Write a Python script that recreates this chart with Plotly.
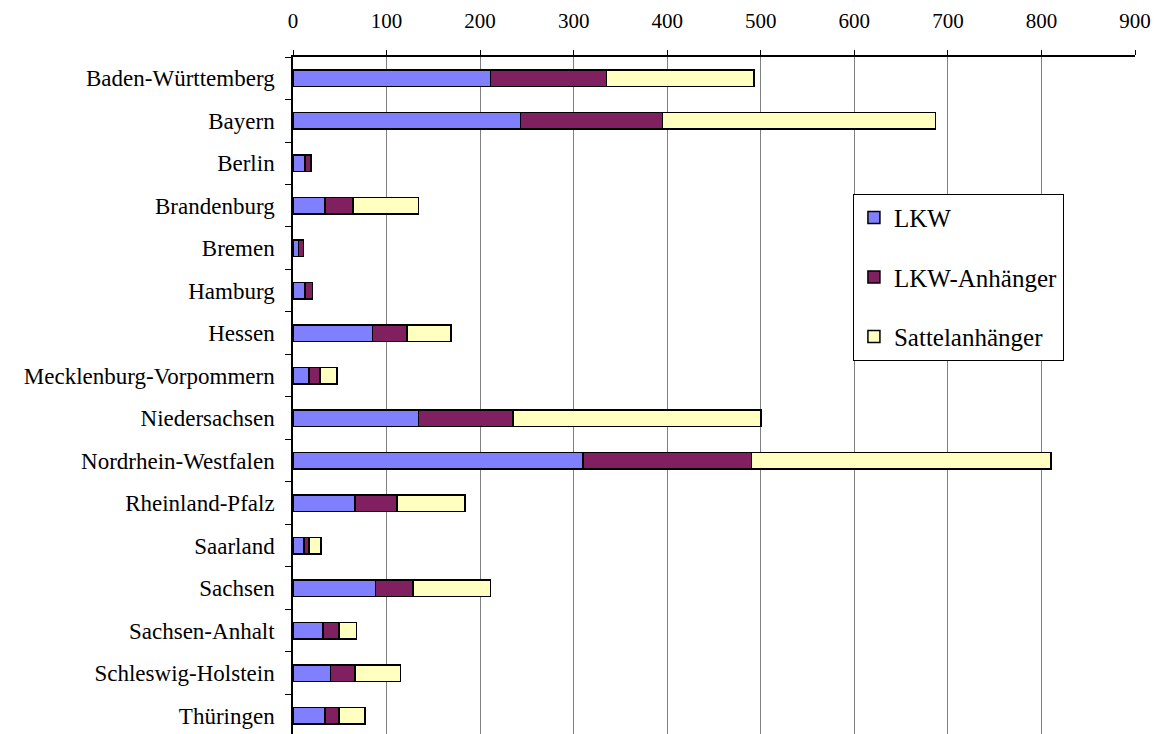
import plotly.graph_objects as go

laender = ["Baden-Württemberg", "Bayern", "Berlin", "Brandenburg", "Bremen", "Hamburg",
           "Hessen", "Mecklenburg-Vorpommern", "Niedersachsen", "Nordrhein-Westfalen",
           "Rheinland-Pfalz", "Saarland", "Sachsen", "Sachsen-Anhalt",
           "Schleswig-Holstein", "Thüringen"]
lkw = [211, 243, 13, 34, 6, 13, 85, 17, 134, 310, 66, 12, 88, 32, 40, 34]
lkw_anhaenger = [124, 152, 6, 30, 5, 8, 37, 12, 101, 180, 45, 5, 40, 17, 26, 15]
sattelanhaenger = [158, 292, 0, 70, 0, 0, 47, 18, 265, 320, 73, 13, 83, 19, 49, 28]
x_ticks = [0, 100, 200, 300, 400, 500, 600, 700, 800, 900]

series = [("LKW", lkw, "#8080FF"),
          ("LKW-Anhänger", lkw_anhaenger, "#802060"),
          ("Sattelanhänger", sattelanhaenger, "#FFFFC0")]

fig = go.Figure()
for name, vals, col in series:
    fig.add_trace(go.Bar(
        y=laender, x=vals, name=name, orientation="h", legendgroup=name,
        marker=dict(color=col, line=dict(color="black", width=1.5)),
    ))

font = "Liberation Serif, Times New Roman, serif"
fig.update_layout(
    width=1153, height=726,
    margin=dict(l=285, r=26, t=49, b=0),
    barmode="stack", bargap=0.62,
    plot_bgcolor="white", paper_bgcolor="white",
    font=dict(family=font, size=18, color="black"),
    showlegend=True,
    legend=dict(x=0.665, y=0.798, xanchor="left", yanchor="top",
                bordercolor="black", borderwidth=1, bgcolor="white",
                font=dict(family=font, size=25, color="black"),
                traceorder="grouped", tracegroupgap=24,
                itemwidth=30),
)
fig.update_xaxes(
    side="top", range=[0, 900], tickvals=x_ticks, ticktext=[str(v) for v in x_ticks],
    showgrid=True, gridcolor="#808080", gridwidth=1,
    showline=True, linecolor="black", linewidth=1.5,
    ticks="outside", ticklen=5, tickcolor="black",
    ticklabelstandoff=14, zeroline=False,
    tickfont=dict(family=font, size=21, color="black"),
)
fig.update_yaxes(
    type="category", categoryorder="array", categoryarray=laender,
    range=[15.43, -0.5],
    showline=True, linecolor="black", linewidth=1.5,
    ticks="outside", tickson="boundaries", ticklen=6, tickcolor="black",
    ticklabelstandoff=12,
    showgrid=False,
    tickfont=dict(family=font, size=23, color="black"),
)
fig.write_html("out.html")
